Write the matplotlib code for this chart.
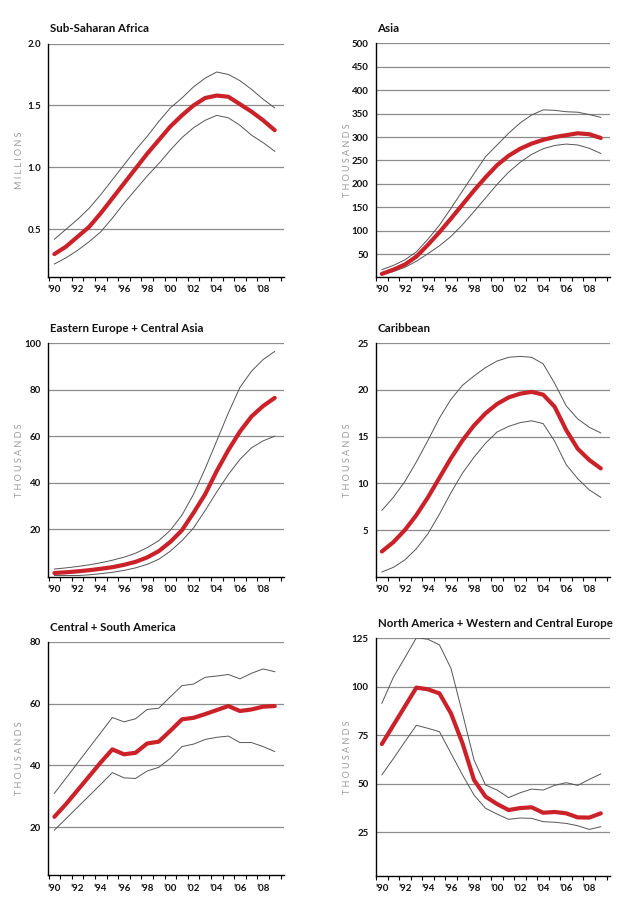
import matplotlib
matplotlib.use("Agg")
from matplotlib import pyplot as plt
import numpy as np

plt.rcParams['font.family'] = ['Lato', 'DejaVu Sans']

years = np.arange(1990, 2010)

# Sub-Saharan Africa (millions)
ssa_mid = [0.30, 0.36, 0.44, 0.52, 0.63, 0.75, 0.87, 0.99, 1.11, 1.22,
           1.33, 1.42, 1.50, 1.56, 1.58, 1.57, 1.51, 1.45, 1.38, 1.30]
ssa_hi = [0.42, 0.50, 0.58, 0.67, 0.78, 0.90, 1.02, 1.14, 1.25, 1.37,
          1.48, 1.56, 1.65, 1.72, 1.77, 1.75, 1.70, 1.63, 1.55, 1.48]
ssa_lo = [0.22, 0.27, 0.33, 0.40, 0.48, 0.59, 0.71, 0.82, 0.93, 1.03,
          1.14, 1.24, 1.32, 1.38, 1.42, 1.40, 1.34, 1.26, 1.20, 1.13]

# Asia (thousands)
asia_mid = [8, 17, 28, 45, 70, 97, 126, 156, 186, 214,
            240, 260, 275, 286, 294, 300, 304, 308, 306, 298]
asia_hi = [17, 26, 38, 55, 82, 112, 148, 185, 222, 258,
           283, 308, 330, 347, 358, 357, 354, 353, 348, 342]
asia_lo = [6, 13, 22, 35, 51, 68, 88, 113, 141, 170,
           199, 225, 246, 263, 275, 282, 285, 283, 276, 265]

# Eastern Europe + Central Asia (thousands)
eeca_mid = [1.1, 1.4, 1.8, 2.3, 2.9, 3.6, 4.6, 5.9, 7.8, 10.5,
            14.5, 19.5, 27, 35, 45, 54, 62, 68.5, 73, 76.5]
eeca_hi = [2.8, 3.3, 3.9, 4.6, 5.5, 6.6, 7.9, 9.6, 12, 15,
           19.5, 26, 35, 46, 58, 70, 81, 88, 93, 96.5]
eeca_lo = [0, 0, 0, 0.3, 0.8, 1.4, 2.2, 3.3, 4.8, 7,
           10.5, 15, 20.5, 28, 36, 43.5, 50, 55, 58, 60]

# Caribbean (thousands)
car_mid = [2.7, 3.7, 5.0, 6.6, 8.5, 10.6, 12.7, 14.6, 16.2, 17.5,
           18.5, 19.2, 19.6, 19.8, 19.5, 18.2, 15.7, 13.7, 12.5, 11.6]
car_hi = [7.1, 8.5, 10.2, 12.3, 14.6, 17.0, 19.0, 20.5, 21.5, 22.4,
          23.1, 23.5, 23.6, 23.5, 22.8, 20.7, 18.3, 16.9, 16.0, 15.4]
car_lo = [0.5, 1.0, 1.8, 3.0, 4.6, 6.7, 9.0, 11.1, 12.8, 14.3,
          15.5, 16.1, 16.5, 16.7, 16.4, 14.5, 12.0, 10.5, 9.3, 8.5]

# Central + South America (thousands)
csa_mid = [23.4, 27.5, 32, 36.5, 41, 45.2, 43.6, 44.1, 47.1, 47.7,
           51.2, 54.9, 55.4, 56.6, 57.9, 59.2, 57.6, 58.1, 59.0, 59.2]
csa_hi = [31.0, 35.9, 40.8, 45.7, 50.6, 55.5, 54.1, 55.1, 58.1, 58.5,
          62.2, 65.8, 66.3, 68.5, 68.9, 69.4, 68.0, 69.8, 71.2, 70.3]
csa_lo = [19.1, 22.8, 26.5, 30.2, 33.9, 37.7, 36.0, 35.8, 38.2, 39.4,
          42.3, 46.1, 46.9, 48.4, 49.1, 49.5, 47.4, 47.4, 46.1, 44.5]

# North America + Western and Central Europe (thousands)
na_mid = [70.5, 80.2, 89.9, 99.6, 98.7, 96.6, 86.3, 70.9, 52.0, 43.4,
          39.6, 36.5, 37.5, 37.9, 35.1, 35.5, 34.8, 32.7, 32.6, 34.8]
na_hi = [91.5, 104.9, 115.0, 125.3, 124.5, 121.6, 109.5, 86.3, 62.3, 49.4,
         46.8, 42.9, 45.4, 47.3, 46.8, 49.2, 50.6, 49.2, 52.3, 55.1]
na_lo = [54.6, 63.0, 71.7, 80.2, 78.6, 76.9, 65.7, 54.6, 44.2, 37.4,
         34.4, 31.7, 32.4, 32.2, 30.5, 30.2, 29.6, 28.4, 26.5, 27.9]

titles = ["Sub-Saharan Africa", "Asia", "Eastern Europe + Central Asia",
          "Caribbean", "Central + South America",
          "North America + Western and Central Europe"]
units = ["MILLIONS", "THOUSANDS", "THOUSANDS", "THOUSANDS", "THOUSANDS", "THOUSANDS"]
series = [(ssa_mid, ssa_lo, ssa_hi), (asia_mid, asia_lo, asia_hi),
          (eeca_mid, eeca_lo, eeca_hi), (car_mid, car_lo, car_hi),
          (csa_mid, csa_lo, csa_hi), (na_mid, na_lo, na_hi)]
yticks = [[0.5, 1.0, 1.5, 2.0], list(range(50, 501, 50)), [20, 40, 60, 80, 100],
          [5, 10, 15, 20, 25], [20, 40, 60, 80], [25, 50, 75, 100, 125]]
ytick_fmt = ["{:.1f}", "{:.0f}", "{:.0f}", "{:.0f}", "{:.0f}", "{:.0f}"]
ylims = [(0.115, 2.0), (2, 500), (-0.5, 100), (0, 25), (4.5, 80), (2.5, 125)]

# panel boxes in pixels: left, top, right, bottom
W, H = 639, 905
boxes = [(48, 43.5, 284, 277), (375.5, 43.3, 610, 276.7),
         (48, 343.3, 284, 576.7), (375.5, 343.3, 610, 576.7),
         (48, 641.7, 284, 875.3), (375.5, 638.3, 610, 876)]

red = '#cb2229'
fig = plt.figure(figsize=(W / 100, H / 100), dpi=100)

for i in range(6):
    l, t, r, b = boxes[i]
    ax = fig.add_axes([l / W, 1 - b / H, (r - l) / W, (b - t) / H])
    mid, lo, hi = series[i]
    for yv in yticks[i]:
        ax.axhline(yv, color='#8c8c8c', linewidth=0.9, zorder=1)
    ax.plot(years, hi, color='#555555', linewidth=0.7, zorder=2)
    ax.plot(years, lo, color='#555555', linewidth=0.7, zorder=2)
    ax.plot(years, mid, color=red, linewidth=3, solid_capstyle='round',
            solid_joinstyle='round', zorder=3)

    ax.set_xlim(1989.45, 2009.8)
    ax.set_ylim(*ylims[i])
    ax.set_yticks(yticks[i])
    ax.set_yticklabels([ytick_fmt[i].format(v) for v in yticks[i]])
    ax.set_xticks(np.arange(1990, 2010, 2))
    ax.set_xticklabels(["\u2019" + str(y)[2:] for y in range(1990, 2010, 2)])
    ax.set_xticks(np.arange(1989.5, 2010, 1), minor=True)
    ax.tick_params(axis='x', which='major', length=0, pad=6, labelsize=7)
    ax.tick_params(axis='x', which='minor', length=3, width=0.8, direction='out')
    ax.tick_params(axis='y', length=0, pad=5, labelsize=7)
    for lab in ax.get_xticklabels() + ax.get_yticklabels():
        lab.set_fontweight('bold')
        lab.set_color('#111111')
    for s in ['top', 'right']:
        ax.spines[s].set_visible(False)
    for s in ['left', 'bottom']:
        ax.spines[s].set_linewidth(1.0)
        ax.spines[s].set_color('black')

    fig.text((l + 2) / W, 1 - (t - 9) / H, titles[i], fontsize=8.3,
             fontweight='bold', ha='left', va='bottom', color='#111111')
    fig.text((l - 28) / W, 1 - ((t + b) / 2) / H, " ".join(units[i]),
             rotation=90, fontsize=6.5, color='#9a9a9a', ha='center', va='center')

fig.savefig("out.png", dpi=100)
